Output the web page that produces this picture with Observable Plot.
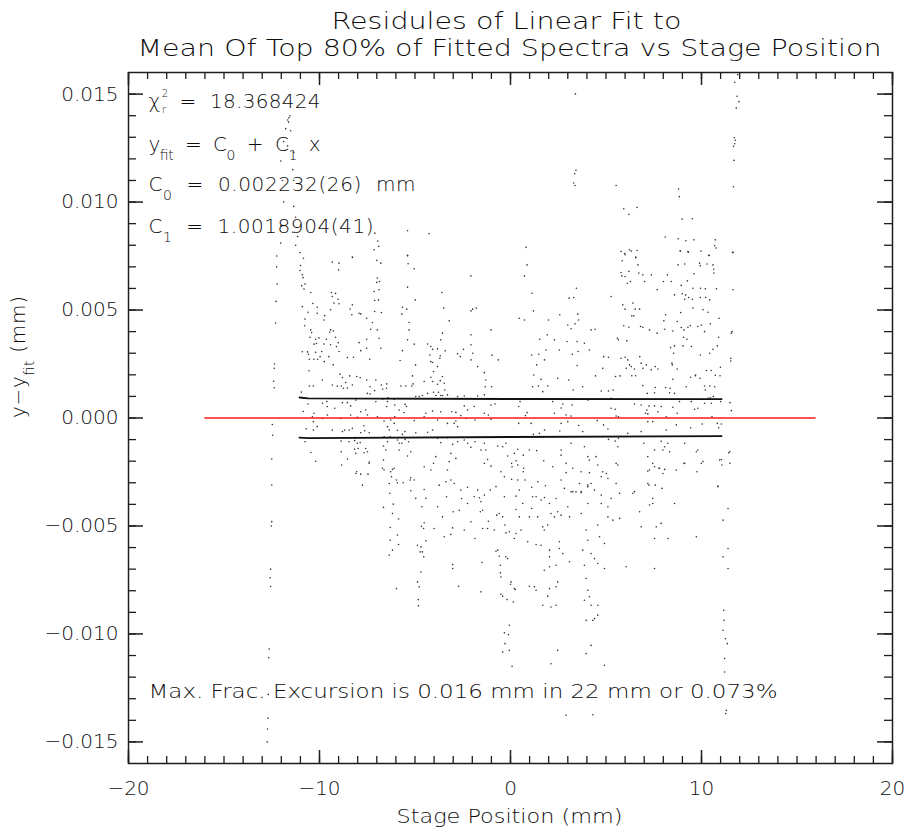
<!DOCTYPE html>
<html><head><meta charset="utf-8">
<script src="https://cdn.jsdelivr.net/npm/d3@7"></script>
<script src="https://cdn.jsdelivr.net/npm/@observablehq/plot@0.6"></script>
<style>
html,body{margin:0;padding:0;background:#fff;}
svg text{white-space:pre;}
</style></head><body><div id="chart"></div>
<script>
// ---------- text ----------
const titleLines = ["Residules of Linear Fit to", "Mean Of Top 80% of Fitted Spectra vs Stage Position"];
const xLabel = "Stage Position (mm)";
const yLabel = "y−y_{fit} (mm)";
const fitNotes = ["χ^{2}_{r}  =  18.368424", "y_{fit}  =  C_{0}  +  C_{1}  x", "C_{0}  =  0.002232(26)  mm", "C_{1}  =  1.0018904(41)"];
const excursionNote = "Max. Frac. Excursion is 0.016 mm in 22 mm or 0.073%";
// ---------- ticks ----------
const xMajorTicks = [-20, -10, 0, 10, 20];
const yMajorTicks = [-0.015, -0.010, -0.005, 0, 0.005, 0.010, 0.015];
const xMinorTicks = d3.range(-20, 21, 1);
const yMinorTicks = d3.range(-15, 16, 1).map(d => d / 1000);
// ---------- fit reference lines ----------
const zeroLineX = [-16, 16];
const bandX = [-11.05, -10.6, 0, 11.05];
const bandUpperUm = [0.95, 0.91, 0.88, 0.87];
const bandLowerUm = [-0.91, -0.93, -0.88, -0.84];
// ---------- residuals: [stage position mm, residual in µm] ----------
const streakNeg12 = [[-12.24,7.5],[-12.24,7.0],[-12.22,6.2],[-12.27,5.4],[-12.3,4.4],[-12.35,2.5],[-12.37,2.3],[-12.4,1.7],[-12.37,1.4],[-12.47,-0.3],[-12.45,-0.8],[-12.5,-1.9],[-12.5,-3.1],[-12.5,-4.8],[-12.52,-5.0],[-12.56,-7.0],[-12.58,-7.4],[-12.56,-7.8],[-12.63,-10.7],[-12.66,-11.1],[-12.68,-12.8],[-12.7,-13.9],[-12.72,-14.4],[-12.74,-15.0]];
const streakNeg11Top = [[-11.55,14.0],[-11.6,13.9],[-11.67,13.8],[-11.62,13.7],[-11.77,13.4],[-11.51,13.3],[-11.88,12.8],[-11.67,12.6],[-11.35,12.3],[-12.03,11.9],[-11.4,11.5],[-11.94,11.0],[-11.35,11.0],[-11.88,10.0],[-11.35,9.8],[-11.25,9.3],[-12.03,8.9],[-11.4,8.6],[-11.14,8.4],[-12.03,8.1],[-11.25,8.0]];
const clusterNeg11 = [[-11.02,7.66],[-10.84,7.40],[-10.99,7.06],[-11.02,6.83],[-10.90,6.63],[-10.86,6.5],[-10.93,6.13],[-10.76,6.2],[-10.81,5.97],[-10.46,5.81],[-10.90,5.16],[-10.76,4.58],[-10.78,4.27],[-10.46,4.08],[-10.41,3.96],[-10.5,3.74],[-10.2,3.65],[-10.29,3.42],[-10.9,3.07],[-10.63,3.06],[-10.58,2.95],[-10.53,2.72],[-10.29,2.72],[-10.55,2.19],[-9.85,1.76],[-10.32,1.48],[-10.53,1.48],[-10.6,0.65],[-10.29,0.22],[-10.37,0.06],[-10.32,-0.17],[-10.76,-1.1],[-10.95,1.2],[-10.7,-0.5],[-10.45,-1.6],[-10.85,0.3],[-10.2,-2.0],[-10.6,4.9],[-10.35,5.3]];
const clusterNeg9 = [[-10.12,5.13],[-10.12,4.85],[-9.73,4.74],[-9.77,4.54],[-9.42,5.01],[-9.38,5.81],[-9.16,5.77],[-9.33,5.63],[-9.03,5.5],[-9.24,5.32],[-8.98,5.29],[-9.42,4.08],[-9.28,4.03],[-9.47,3.97],[-9.16,3.74],[-9.64,3.65],[-10.03,3.71],[-9.77,3.43],[-9.42,3.39],[-9.02,3.49],[-9.11,3.31],[-10.16,3.45],[-10.2,3.04],[-9.88,3.08],[-9.97,2.84],[-10.1,2.72],[-9.75,2.61],[-9.51,2.84],[-9.28,2.46],[-8.98,3.08],[-8.93,2.03],[-8.8,1.87],[-9.33,1.53],[-9.07,1.48],[-8.86,1.48],[-8.63,1.64],[-8.54,1.39],[-8.75,1.38],[-8.28,1.53],[-9.61,0.76],[-9.84,0.68],[-9.59,0.53],[-9.2,0.45],[-8.8,0.71],[-8.54,0.71],[-8.37,0.56],[-8.1,0.83],[-8.37,0.14],[-8.89,-0.02],[-9.59,0.14],[-9.84,-0.02],[-10.32,-0.56],[-10.12,-0.4],[-9.33,-0.56],[-8.8,-0.63],[-8.68,-0.56],[-8.45,-0.56],[-8.28,-0.48],[-8.87,-1.07],[-8.45,-1.1],[-8.1,-0.94],[-8.02,-1.17],[-8.16,-1.45],[-8.1,-1.64],[-8.86,-1.56],[-7.67,-1.61],[-8.54,-1.9],[-9.33,7.22],[-8.98,7.17],[-9.0,6.86]];
const clusterNeg7 = [[-8.28,7.45],[-7.14,7.79],[-7.0,7.3],[-6.79,7.17],[-6.97,6.48],[-7.0,6.28],[-6.86,6.32],[-7.14,5.86],[-6.88,5.94],[-7.11,5.44],[-6.91,5.47],[-8.28,5.24],[-8.4,5.05],[-7.93,4.85],[-7.84,4.82],[-8.31,4.78],[-7.53,4.62],[-7.11,4.93],[-6.76,4.88],[-7.23,4.42],[-7.32,4.11],[-6.97,4.08],[-6.88,3.69],[-7.53,3.65],[-7.93,3.49],[-7.84,3.12],[-7.53,3.23],[-6.79,3.23],[-7.37,2.72],[-8.22,2.81],[-8.54,2.8],[-8.42,1.95],[-8.05,1.92],[-7.87,1.87],[-7.53,1.76],[-7.35,1.45],[-7.05,1.76],[-6.76,1.53],[-6.48,1.58],[-6.69,1.33],[-7.11,1.27],[-7.35,1.11],[-7.49,1.14],[-7.05,0.76],[-6.7,0.87],[-6.44,0.76],[-6.48,0.53],[-6.62,-0.14],[-6.44,-0.4],[-7.58,0.37],[-7.84,0.29],[-7.49,0.14],[-6.97,0.06],[-8.02,0.03],[-7.63,-0.59],[-7.84,-0.68],[-7.67,-0.36],[-7.4,-0.68],[-8.16,-1.05],[-7.87,-1.14],[-7.98,-1.41],[-7.49,-1.56],[-7.58,-1.41],[-7.4,-2.04],[-6.65,-1.3],[-6.44,-1.1],[-6.62,-0.87],[-8.05,-2.49],[-8.1,-2.57],[-7.84,-2.6],[-7.75,-3.11],[-7.46,-2.6],[-6.7,-2.33],[-6.62,-2.41],[-6.35,-3.03],[-6.27,-2.49],[-6.09,-2.33],[-5.97,-2.87],[-5.92,-3.0],[-7.1,8.56],[-6.95,8.2],[-6.9,7.95],[-8.27,7.43]];
const lowerNeg6 = [[-8.84,-2.18],[-7.4,-2.1],[-5.62,-3.0],[-6.32,-3.49],[-6.65,-4.14],[-6.14,-3.99],[-6.18,-4.42],[-5.86,-4.68],[-6.3,-5.07],[-6.3,-5.66],[-5.92,-5.42],[-5.86,-5.86],[-6.18,-6.12],[-6.35,-6.35],[-5.97,-7.9]];
const midUpper = [[-5.39,8.67],[-4.26,8.53],[-5.39,7.53],[-5.39,7.51],[-5.36,7.14],[-5.04,6.91],[-5.39,6.06],[-4.99,5.47],[-5.66,5.13],[-5.43,5.04],[-5.69,4.81],[-5.31,4.42],[-5.31,4.08],[-5.04,3.42],[-5.39,3.62],[-5.66,3.12],[-5.78,2.66],[-4.97,2.46],[-5.13,1.95],[-5.1,1.58],[-5.17,1.48],[-5.48,1.48],[-5.74,1.48],[-6.49,1.38],[-6.41,0.94],[-6.09,0.87],[-6.06,0.6],[-5.52,0.63],[-5.45,0.53],[-5.83,0.37],[-5.57,0.25],[-6.06,0.06],[-6.27,-0.09],[-6.09,-0.25],[-6.35,-0.56],[-5.92,-0.57],[-5.53,-0.63],[-5.66,-0.76],[-6.3,-0.87],[-5.92,-1.02],[-5.52,-0.99],[-5.04,-0.12],[-4.96,-0.68],[-5.34,-1.1],[-5.22,-1.56],[-5.39,-1.76],[-5.83,-1.17],[-5.69,-1.17],[-5.83,-1.48],[-6.53,-1.48],[-6.65,-1.95],[-6.18,-2.38],[-6.23,-2.72],[-5.25,-2.87],[-5.22,-2.77],[-5.04,-2.87],[-4.34,3.43],[-4.17,3.31],[-4.08,3.18],[-4.22,2.92],[-4.17,2.61],[-3.82,3.2],[-3.7,2.77],[-3.42,3.11],[-3.65,3.62],[-3.56,3.93],[-3.59,5.81],[-3.5,5.09],[-3.21,4.5],[-2.77,2.97],[-2.63,2.84],[-2.46,3.18],[-2.07,6.58],[-2.07,4.96],[-1.98,5.04],[-1.79,5.09],[-2.07,3.85],[-2.07,3.39],[-1.98,3.0],[-2.07,2.69],[-1.72,2.38],[-1.37,2.1],[-1.29,1.76],[-1.02,4.08],[-0.97,2.91],[-0.64,2.69],[-3.68,2.88],[-4.08,2.57],[-3.82,2.38],[-4.03,2.15],[-4.17,1.89],[-4.52,1.69],[-4.08,1.69],[-3.82,1.56],[-3.68,1.73],[-3.56,1.92],[-3.47,1.61],[-3.44,1.3],[-3.56,1.04],[-3.91,1.04],[-3.65,1.04],[-3.77,1.19],[-4.03,1.19],[-4.34,1.14],[-4.61,1.04],[-4.78,0.99],[-4.96,0.99],[-3.3,1.07],[-2.77,0.99],[-2.42,1.02],[-1.72,1.02],[-1.37,1.07],[-0.99,1.45],[-1.32,1.45],[-2.42,0.56],[-2.25,0.37],[-2.6,0.11],[-2.86,0.26],[-3.07,0.29],[-3.65,0.29],[-4.08,0.32],[-4.43,0.22],[-4.52,0.06],[-3.82,-0.09],[-3.3,-0.25],[-2.86,-0.14],[-2.33,-0.02],[-1.86,-0.09],[-1.02,-0.06],[-1.16,0.14],[-0.81,0.65],[-1.02,0.6],[-1.37,0.22],[-1.9,0.53],[-2.95,-0.25],[-2.77,-0.4],[-4.08,-0.56],[-4.34,-0.66],[-3.82,-0.94],[-3.65,-1.14],[-3.3,-0.91],[-3.03,-1.22],[-2.77,-1.1],[-3.12,-1.64],[-2.86,-1.87],[-3.21,-2.02],[-2.42,-1.02],[-2.25,-1.17],[-2.07,-1.36],[-1.86,-1.1],[-1.37,-1.17],[-1.55,-1.48],[-1.29,-1.48],[-1.2,-1.92],[-1.37,-2.1],[-1.02,-2.23],[-0.67,-1.3],[-0.41,-1.33],[-0.24,-1.17],[-0.15,-1.76],[0.2,-1.64],[0.29,-1.98],[0.08,-2.26],[-0.5,-2.49],[-0.32,-2.72],[-0.76,-3.18],[-1.06,-3.34],[-1.37,-3.57],[-1.72,-3.34],[-1.9,-3.65],[-2.25,-3.21],[-2.6,-3.34],[-2.95,-3.03],[-3.12,-2.87],[-3.3,-2.41],[-3.38,-2.95],[-3.73,-3.11],[-4.52,-3.31],[-4.43,-3.72],[-4.96,-3.72],[-5.22,-3.37],[-4.52,-2.26],[-4.17,-2.41],[-4.03,-2.1],[-3.91,-1.79]];
const nearZeroRight = [[0.81,7.9],[0.46,4.62],[0.73,4.54],[0.73,6.58],[0.87,7.09],[1.13,5.78],[1.2,4.96],[1.99,4.54],[1.92,3.85],[1.53,3.65],[1.86,3.15],[1.48,2.95],[1.78,2.69],[1.11,2.92],[1.37,2.46],[1.22,1.99],[1.6,1.79],[1.46,1.48],[1.16,1.45],[1.95,1.48],[1.69,1.22],[0.5,0.76],[0.43,0.53],[0.87,0.25],[0.78,0.11],[0.43,-0.25],[1.08,-0.25],[1.51,-0.71],[1.78,-0.56],[1.2,-0.76],[1.37,-1.51],[1.74,-1.98],[0.99,-1.48],[0.67,-1.72],[0.38,-1.45],[0.06,-2.1],[0.38,-2.18],[0.69,-2.33],[0.67,-2.49],[0.06,-2.84],[0.38,-2.87],[0.76,-2.87],[1.43,-2.95],[1.83,-3.14],[1.11,-3.21],[0.46,-3.34],[0.29,-3.62],[1.16,-3.65],[1.78,-3.68]];
const midLower = [[-4.64,-4.11],[-4.66,-5.01],[-4.55,-5.12],[-4.52,-4.85],[-4.87,-5.89],[-4.69,-5.97],[-4.43,-5.69],[-4.61,-6.2],[-4.54,-6.43],[-4.73,-6.2],[-4.69,-7.13],[-4.87,-7.59],[-4.78,-7.82],[-4.83,-8.41],[-4.82,-8.7],[-3.35,-3.65],[-3.0,-4.34],[-3.03,-5.09],[-3.12,-5.39],[-3.03,-6.79],[-3.03,-6.97],[-2.72,-7.79],[-2.68,-4.27],[-2.56,-3.73],[-1.63,-3.69],[-1.55,-3.88],[-1.46,-4.27],[-1.58,-4.34],[-1.16,-4.78],[-1.2,-5.12],[-1.46,-5.12],[-1.49,-6.69],[-1.55,-8.05],[-0.76,-6.17],[-0.59,-6.4],[-0.24,-6.43],[-0.15,-6.51],[-0.53,-6.82],[-0.53,-7.17],[-0.5,-7.36],[0.03,-7.59],[0.0,-7.7],[0.2,-7.9],[-0.5,-8.16],[-0.41,-8.25],[-0.18,-8.41],[0.15,-8.52],[0.25,-7.94],[-0.06,-9.6],[-0.32,-9.95],[-0.11,-10.03],[-0.29,-10.45],[-0.06,-10.76],[-0.41,-10.84],[0.08,-11.5],[-0.06,-5.27],[-0.24,-5.32],[0.2,-5.58],[0.29,-5.35],[1.34,-3.65],[1.6,-3.8],[2.04,-3.96],[0.99,-4.58],[1.42,-4.58],[1.69,-5.04],[1.95,-4.96],[1.77,-5.19],[0.9,-5.73],[1.34,-5.86],[1.6,-5.89],[2.04,-6.12],[2.04,-6.43],[1.77,-7.05],[2.04,-6.89],[0.99,-7.79],[1.25,-7.82],[1.34,-7.98],[1.69,-8.67],[2.04,-7.9],[1.95,-8.25],[0.64,-3.96],[0.46,-4.58],[0.55,-5.19],[1.11,-4.19],[0.29,-4.24],[-0.32,-3.65],[-0.41,-4.58],[-0.59,-4.42],[-0.72,-4.5],[-0.29,-4.96],[-0.85,-5.19],[-0.67,-6.12],[-3.82,-4.11],[-3.56,-4.58],[-2.25,-3.96],[-2.07,-4.81],[-2.42,-5.19],[-4.0,-5.12],[-1.86,-5.58],[-3.47,-5.5]];
const rightUpperA = [[3.45,6.01],[3.07,5.55],[3.31,5.58],[2.58,4.78],[3.0,4.31],[3.17,4.13],[3.38,4.36],[3.56,4.54],[3.52,4.81],[2.96,3.54],[3.49,3.54],[3.54,3.08],[3.24,2.95],[3.49,2.43],[3.05,1.76],[3.28,1.3],[4.45,1.95],[4.43,4.11],[4.83,2.3],[4.88,2.84],[5.13,2.81],[5.27,5.63],[4.75,1.25],[5.13,1.25],[5.37,1.3],[5.27,0.91],[2.74,0.65],[3.23,0.6],[2.65,0.46],[2.91,0.14],[3.17,0.09],[3.0,-0.17],[3.57,-0.35],[3.78,-0.63],[2.58,-0.6],[4.54,-0.12],[4.87,-0.32],[5.1,-0.51],[5.13,-0.99],[5.48,-1.07],[5.53,0.09],[5.48,0.4],[5.27,0.45],[5.62,-1.33],[2.21,0.76],[2.3,0.22],[2.65,-0.25],[2.3,-0.87],[3.17,-1.17],[3.87,-1.33],[4.05,-1.79],[4.48,-1.79],[2.65,-1.48],[2.91,-2.1],[3.87,3.46],[4.13,3.15],[4.22,4.08],[2.3,3.62],[2.56,3.15],[2.47,1.84],[3.78,1.45],[4.05,0.83],[2.21,-2.26],[2.91,-2.53],[3.7,-2.49],[4.13,-2.53],[4.83,-2.49],[5.62,-2.18],[2.65,-2.87],[3.61,-3.03],[4.22,-3.03],[4.75,-2.72],[5.1,-2.8],[5.53,-3.03],[2.82,-3.26],[3.26,-3.41],[3.7,-3.41],[4.05,-3.18],[4.75,-3.57],[5.27,-3.72]];
const rightUpperB = [[5.79,7.71],[6.0,7.56],[6.56,7.45],[6.23,7.79],[5.85,7.28],[6.67,7.09],[5.79,6.74],[5.83,6.58],[6.0,6.55],[6.2,6.79],[6.72,6.71],[6.93,6.63],[7.37,6.63],[6.11,6.24],[6.28,6.32],[7.02,6.32],[7.68,5.94],[8.01,6.32],[8.21,6.63],[8.42,6.32],[8.77,7.09],[9.12,7.13],[9.61,6.68],[9.9,7.17],[9.94,7.05],[10.29,7.13],[10.6,7.09],[10.64,6.89],[10.65,6.71],[8.94,6.14],[9.26,6.35],[9.55,6.01],[9.95,6.01],[10.2,5.98],[8.59,5.7],[8.99,5.75],[9.17,5.7],[9.12,5.5],[9.33,5.58],[9.52,5.5],[9.94,5.58],[10.22,5.58],[10.43,5.47],[10.78,5.98],[11.65,5.94],[11.65,7.67],[10.39,7.53],[9.29,7.71],[8.89,7.74],[5.88,5.24],[6.0,5.04],[6.41,5.32],[6.53,5.04],[6.76,5.04],[6.35,4.73],[6.46,4.73],[8.12,4.78],[8.03,4.5],[8.91,4.88],[9.55,5.09],[10.08,5.01],[10.34,4.9],[10.92,4.62],[5.93,4.27],[6.2,4.2],[6.81,4.24],[6.93,4.2],[7.28,4.08],[7.68,3.93],[8.07,4.11],[8.5,4.03],[8.73,4.47],[8.94,4.19],[9.08,4.08],[9.29,4.2],[9.41,4.28],[9.81,4.24],[9.99,4.31],[10.16,4.0],[10.46,4.36],[10.9,3.74],[11.56,3.93],[11.6,4.0],[5.59,3.69],[5.65,3.62],[6.09,3.57],[9.06,3.74],[9.24,3.65],[8.38,3.26],[8.54,3.0],[8.59,3.34],[9.03,3.34],[9.47,3.31],[9.94,2.92],[10.43,3.0],[10.6,3.18],[10.83,3.34],[11.53,2.77],[11.53,2.64],[5.79,2.77],[6.0,2.81],[6.14,2.69],[6.23,2.46],[6.32,2.38],[6.06,2.3],[6.49,2.27],[6.77,2.84],[6.84,2.54],[6.93,2.3],[7.11,2.46],[7.37,2.23],[7.72,2.27],[7.58,2.38],[8.45,2.54],[8.47,2.46],[8.73,2.27],[9.2,1.45],[9.43,1.89],[9.69,1.99],[9.92,1.84],[10.25,2.2],[10.51,2.2],[10.72,1.98],[10.99,2.35],[10.97,1.96],[5.5,1.92],[5.74,1.95],[6.35,1.96],[6.55,1.96],[6.93,1.5],[7.58,1.41],[8.12,1.41],[8.35,1.38],[8.5,1.79],[9.68,1.96],[10.16,1.48],[10.44,1.48],[10.69,1.45],[7.16,1.14],[7.54,1.17],[8.33,1.17],[8.59,1.14],[10.2,1.3],[10.34,0.91],[10.46,0.94],[10.62,0.99],[5.39,0.87],[6.49,0.65],[6.84,0.6],[7.25,0.56],[7.54,0.56],[7.72,0.29],[7.89,0.53],[8.5,0.5],[8.73,0.22],[8.85,0.76],[9.47,0.76],[9.81,0.45],[9.64,0.4],[10.16,0.68],[10.51,0.68],[11.0,0.76],[11.49,0.71],[11.56,0.34],[7.07,0.22],[7.14,0.37],[7.19,0.19],[5.65,0.06],[8.15,0.06],[10.55,0.06],[10.83,-0.25],[11.04,-0.28],[10.9,-0.45],[10.04,-0.28],[9.43,-0.45],[8.68,-0.32],[8.15,-0.56],[7.45,-0.17],[7.19,-0.17],[6.84,-0.63],[6.14,-0.71],[5.65,-0.94],[6.98,-1.17],[7.19,-1.79],[7.45,-2.1],[7.89,-1.08],[8.24,-1.17],[8.07,-1.33],[8.33,-1.56],[7.98,-1.48],[7.54,-1.48],[9.12,-1.17],[9.73,-1.56],[9.81,-1.48],[10.08,-2.02],[11.48,-1.56],[11.42,-1.61],[11.04,-1.92],[11.07,-2.18],[11.49,-2.1],[7.19,-2.46],[7.28,-2.41],[7.77,-2.33],[8.07,-2.38],[8.68,-2.41],[9.08,-2.1],[9.76,-2.49],[7.58,-3.11],[7.93,-3.26],[7.25,-3.11],[7.45,-3.72],[6.49,-3.41],[10.86,-3.15]];
const rightTop = [[3.4,15.01],[11.74,15.55],[11.86,14.9],[11.96,14.65],[11.82,14.36],[11.72,12.98],[11.77,12.86],[11.74,12.7],[11.68,12.58],[11.7,11.93],[11.67,10.71],[3.43,11.47],[3.36,11.31],[3.31,10.88],[3.38,10.77],[5.53,10.77],[8.8,10.6],[8.84,10.25],[5.93,9.69],[6.63,9.75],[6.2,9.43],[8.98,9.21],[9.52,9.23],[8.1,8.38],[8.78,8.3],[9.18,8.21],[9.6,8.25],[10.72,8.25],[10.69,7.98],[10.76,7.87],[5.97,7.62],[6.32,7.73],[6.63,7.76],[6.56,7.42],[8.89,7.73],[9.31,7.68],[9.97,7.73],[10.39,7.53],[11.63,7.67],[11.9,15.9]];
const rightLower = [[4.05,-3.11],[3.7,-3.46],[3.43,-3.42],[3.17,-3.42],[2.39,-3.73],[5.71,-3.49],[4.4,-3.34],[2.12,-4.42],[2.3,-4.58],[2.47,-4.34],[2.65,-4.5],[3.09,-4.58],[3.7,-4.42],[3.96,-5.19],[4.05,-5.66],[4.57,-4.96],[4.66,-5.5],[4.92,-5.81],[5.1,-4.58],[5.36,-4.73],[5.71,-4.65],[5.1,-4.11],[4.75,-3.96],[4.05,-3.96],[3.0,-4.11],[2.56,-5.73],[2.56,-6.04],[2.74,-6.28],[3.09,-6.66],[3.78,-6.12],[4.22,-6.28],[4.4,-6.51],[4.57,-6.74],[4.92,-6.97],[3.87,-6.82],[2.39,-6.82],[2.39,-7.82],[2.47,-7.59],[2.12,-8.75],[2.39,-8.67],[3.96,-7.43],[4.05,-7.98],[4.13,-8.28],[3.87,-8.44],[4.22,-8.67],[4.57,-8.67],[4.4,-9.29],[4.31,-9.37],[4.57,-9.13],[3.96,-9.37],[2.47,-10.76],[2.12,-11.38],[4.22,-10.53],[3.96,-10.91],[4.92,-11.45],[2.91,-13.77],[4.31,-13.74],[6.06,-6.89],[6.41,-3.49],[6.76,-4.34],[6.84,-5.04],[7.19,-3.03],[7.28,-4.03],[7.54,-5.58],[7.45,-3.96],[7.63,-5.04],[7.89,-4.88],[8.24,-5.58],[8.59,-3.96],[9.73,-5.5],[10.86,-3.18],[11.13,-4.73],[11.39,-4.19],[11.39,-6.04],[11.13,-6.43],[11.39,-6.97],[11.16,-8.9],[11.18,-9.37],[11.13,-9.83],[11.25,-10.22],[11.35,-10.45],[11.21,-11.14],[11.21,-11.76],[11.3,-13.54],[11.27,-13.69],[7.54,-6.97],[2.65,-1.72],[3.26,-2.33],[4.13,-1.95],[4.57,-2.18],[5.01,-2.57],[5.53,-2.1],[7.54,-2.26],[7.8,-2.33],[7.98,-2.57],[9.12,-2.1],[9.99,-2.1],[10.95,-1.95]];

const pointGroups = [streakNeg12, streakNeg11Top, clusterNeg11, clusterNeg9, clusterNeg7, lowerNeg6, midUpper, nearZeroRight, midLower, rightUpperA, rightUpperB, rightTop, rightLower];
const residuals = pointGroups.flat().map(([x, um]) => ({x, y: um / 1000}));
const upperBand = bandX.map((x, i) => ({x, y: bandUpperUm[i] / 1000}));
const lowerBand = bandX.map((x, i) => ({x, y: bandLowerUm[i] / 1000}));

// ---------- layout ----------
const W = 905, H = 832, mT = 72, mB = 69, mL = 128, mR = 13;
const FW = W - mL - mR, FH = H - mT - mB;
const ink = "#1e1e1e";
const textInk = "#0d0d0d";
const thin = 200; // thin font weight, like the vector font of the original
const noteDy = [35, 78, 118, 160];

const plot = Plot.plot({
  width: W, height: H,
  marginTop: mT, marginBottom: mB, marginLeft: mL, marginRight: mR,
  x: {domain: [-20, 20]},
  y: {domain: [-0.016, 0.016]},
  style: {fontFamily: "DejaVu Sans", fontSize: "20px", fontWeight: thin, color: textInk, background: "#fff", overflow: "visible"},
  marks: [
    Plot.dot(residuals, {x: "x", y: "y", r: 0.8, fill: "#333"}),
    Plot.ruleY([0], {x1: zeroLineX[0], x2: zeroLineX[1], stroke: "#ff1a1a", strokeWidth: 1.6}),
    Plot.line(upperBand, {x: "x", y: "y", stroke: "#111", strokeWidth: 1.8}),
    Plot.line(lowerBand, {x: "x", y: "y", stroke: "#111", strokeWidth: 1.8}),
    // inward ticks, all four sides
    Plot.tickX(xMinorTicks, {x: d => d, insetTop: FH - 7, stroke: ink, strokeWidth: 1.3}),
    Plot.tickX(xMinorTicks, {x: d => d, insetBottom: FH - 7, stroke: ink, strokeWidth: 1.3}),
    Plot.tickX(xMajorTicks, {x: d => d, insetTop: FH - 13, stroke: ink, strokeWidth: 1.5}),
    Plot.tickX(xMajorTicks, {x: d => d, insetBottom: FH - 13, stroke: ink, strokeWidth: 1.5}),
    Plot.tickY(yMinorTicks, {y: d => d, insetRight: FW - 8, stroke: ink, strokeWidth: 1.3}),
    Plot.tickY(yMinorTicks, {y: d => d, insetLeft: FW - 8, stroke: ink, strokeWidth: 1.3}),
    Plot.tickY(yMajorTicks, {y: d => d, insetRight: FW - 15, stroke: ink, strokeWidth: 1.5}),
    Plot.tickY(yMajorTicks, {y: d => d, insetLeft: FW - 15, stroke: ink, strokeWidth: 1.5}),
    Plot.frame({stroke: ink, strokeWidth: 1.5}),
    Plot.axisX(xMajorTicks, {tickSize: 0, tickPadding: 17, label: null, fontSize: 20, fontWeight: thin, fill: textInk}),
    Plot.axisY(yMajorTicks, {tickSize: 0, tickPadding: 10, label: null, fontSize: 20, fontWeight: thin, fill: textInk, tickFormat: d3.format(".3f")}),
    Plot.text([titleLines[0]], {text: d => d, frameAnchor: "top", lineAnchor: "bottom", dy: -44, dx: -4, fontSize: 23, fontWeight: thin, fill: textInk}),
    Plot.text([titleLines[1]], {text: d => d, frameAnchor: "top", lineAnchor: "bottom", dy: -17, dx: -1, fontSize: 23, fontWeight: thin, fill: textInk}),
    Plot.text([xLabel], {text: d => d, frameAnchor: "bottom", lineAnchor: "bottom", dy: 59, dx: -1, fontSize: 20, fontWeight: thin, fill: textInk}),
    Plot.text([yLabel], {text: d => d, frameAnchor: "left", rotate: -90, dx: -110, fontSize: 20, fontWeight: thin, fill: textInk}),
    ...fitNotes.map((s, i) => Plot.text([s], {text: d => d, frameAnchor: "top-left", textAnchor: "start", lineAnchor: "bottom", dx: 20, dy: noteDy[i], fontSize: 20, fontWeight: thin, fill: textInk})),
    Plot.text([excursionNote], {text: d => d, frameAnchor: "bottom-left", textAnchor: "start", lineAnchor: "bottom", dx: 20, dy: -66, fontSize: 20, fontWeight: thin, fill: textInk})
  ]
});
document.getElementById("chart").appendChild(plot);

// ---------- rich text (sub/superscripts) and width matching ----------
const NS = "http://www.w3.org/2000/svg";
function richify(t) {
  const s = t.textContent;
  const fs = parseFloat(getComputedStyle(t).fontSize) || 20;
  t.textContent = "";
  const re = /([_^])\{([^}]*)\}|([^_^]+)/g;
  let cur = 0, lastSup = null, m;
  while ((m = re.exec(s))) {
    const ts = document.createElementNS(NS, "tspan");
    let target = 0, size = null, dx = 0;
    if (m[3] !== undefined) { ts.textContent = m[3]; }
    else if (m[1] === "^") { ts.textContent = m[2]; target = -0.52 * fs; size = 0.5 * fs; dx = 1; }
    else {
      ts.textContent = m[2];
      if (lastSup) { target = 0.25 * fs; size = 0.5 * fs; dx = -lastSup.getComputedTextLength(); }
      else { target = 0.45 * fs; size = 0.7 * fs; }
    }
    if (size) ts.setAttribute("font-size", size);
    if (target !== cur) ts.setAttribute("dy", target - cur);
    if (dx) ts.setAttribute("dx", dx);
    cur = target;
    t.appendChild(ts);
    lastSup = (m[1] === "^") ? ts : null;
  }
}
const targetWidths = new Map([
  [titleLines[0], 350], [titleLines[1], 744], [xLabel, 226], [yLabel, 122],
  [fitNotes[0], 172], [fitNotes[1], 172], [fitNotes[2], 267], [fitNotes[3], 225], [excursionNote, 629]
]);
plot.querySelectorAll("text").forEach(t => {
  const s = t.textContent;
  if (!targetWidths.has(s)) return;
  const rich = /[_^]\{/.test(s);
  if (rich) richify(t);
  t.setAttribute("textLength", targetWidths.get(s));
  t.setAttribute("lengthAdjust", rich ? "spacing" : "spacingAndGlyphs");
});
</script></body></html>
